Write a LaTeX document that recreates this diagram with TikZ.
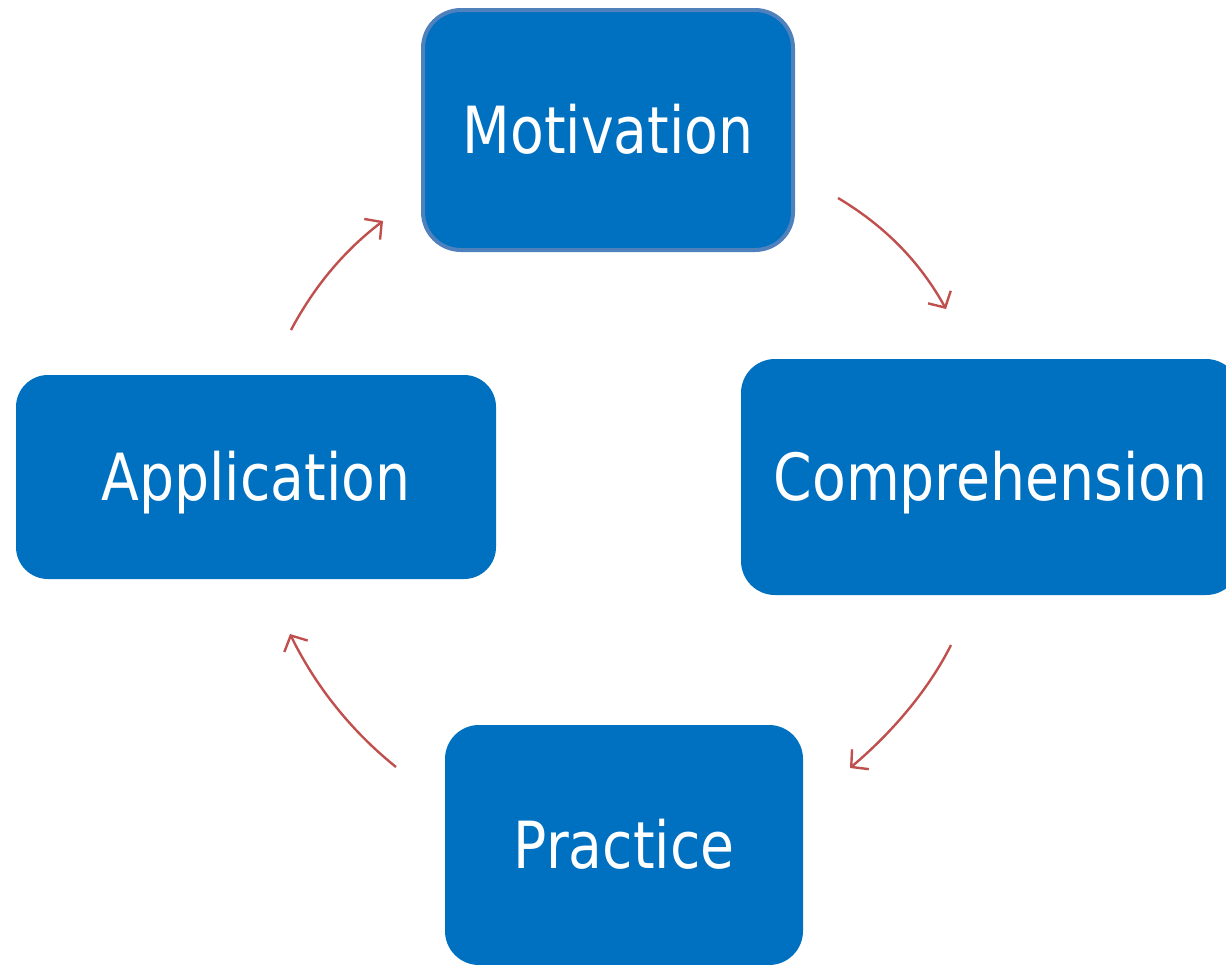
\documentclass[tikz,border=0pt]{standalone}
\usepackage{fontspec}
\newfontfamily\boxfont{DejaVu Sans}[FakeStretch=0.85]
\usetikzlibrary{arrows.meta}
\definecolor{boxblue}{HTML}{0070C0}
\definecolor{edgeblue}{HTML}{4F81BD}
\definecolor{arrowred}{HTML}{C0504D}
\tikzset{
  stepbox/.style={fill=boxblue, draw=none, rounded corners=34pt, text=white,
    font=\boxfont\fontsize{65}{78}\selectfont, text height=47pt, text depth=0pt,
    inner sep=0pt, align=center},
  cyclearrow/.style={draw=arrowred, line width=2.4pt,
    -{Straight Barb[length=12pt,width=26pt,line width=2.4pt]}}
}
\begin{document}
\begin{tikzpicture}[x=1pt,y=-1pt]
\useasboundingbox (0,0) rectangle (1226,964);
\clip (0,0) rectangle (1226,964);
\node[stepbox, draw=edgeblue, line width=4pt, rounded corners=38pt,
  minimum width=370pt, minimum height=240pt] (mot) at (608,130) {Motivation};
\node[stepbox, minimum width=499pt, minimum height=236pt] (comp) at (990.5,477) {Comprehension};
\node[stepbox, minimum width=358pt, minimum height=240pt] (prac) at (624,845) {Practice};
\node[stepbox, rounded corners=32pt, minimum width=480pt, minimum height=204pt] (app) at (256,477) {Application};
\coordinate (a1s) at (838,198);
\coordinate (a1e) at (946,309);
\coordinate (a2s) at (951,645);
\coordinate (a2e) at (850,768);
\coordinate (a3s) at (396,767);
\coordinate (a3e) at (290,634);
\coordinate (a4s) at (291,330);
\coordinate (a4e) at (383,221);
\draw[cyclearrow] (a1s) .. controls (885,226) and (920,262) .. (a1e);
\draw[cyclearrow] (a2s) .. controls (930,687) and (895,730) .. (a2e);
\draw[cyclearrow] (a3s) .. controls (350,730) and (315,685) .. (a3e);
\draw[cyclearrow] (a4s) .. controls (315,285) and (345,250) .. (a4e);
\end{tikzpicture}
\end{document}
